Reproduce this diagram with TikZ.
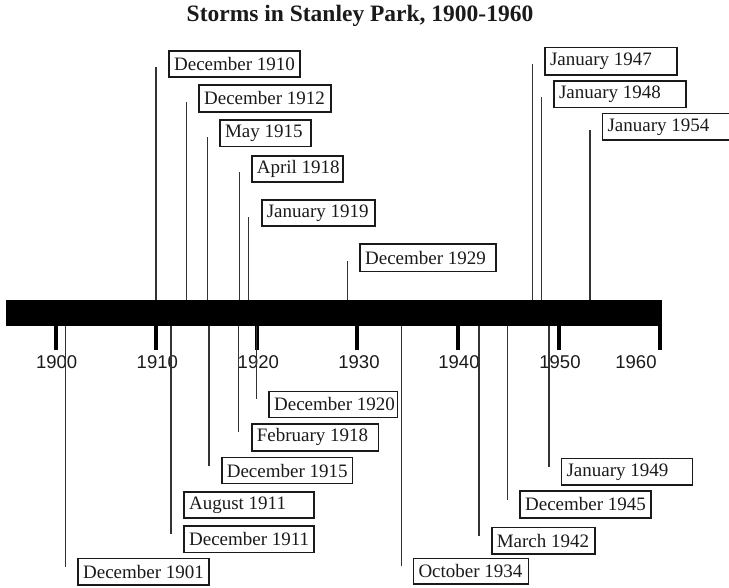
\documentclass[tikz,border=0pt]{standalone}
\usepackage{fontspec}
\setmainfont{Liberation Serif}
\newfontfamily\yearfont{Liberation Sans}
\definecolor{ink}{HTML}{1A1A1A}
\definecolor{linegray}{HTML}{333333}
\tikzset{
  conn/.style={draw=linegray, line width=1.5pt},
  lbl/.style={draw=ink, line width=1.6pt, text=ink, inner xsep=5pt, inner ysep=0pt,
    anchor=north west, font=\fontsize{19}{21}\selectfont},
  yearlbl/.style={anchor=base, text=ink, inner sep=0pt, font=\yearfont\fontsize{18.5}{20}\selectfont},
  tickmark/.style={draw=black, line width=4pt},
  bar/.style={fill=black},
}
\begin{document}
\begin{tikzpicture}[x=1pt,y=-1pt]
\useasboundingbox (0,0) rectangle (729,587);
\clip (0,0) rectangle (729,587);
% title
\node[font=\bfseries\fontsize{23.5}{25}\selectfont, text=ink, anchor=base] (title) at (360,21) {Storms in Stanley Park, 1900-1960};
% timeline bar
\node[bar, minimum width=656pt, minimum height=26pt, inner sep=0pt, anchor=north west] (tl) at (6,300) {};
% ticks and year labels
\foreach \n/\x/\c/\y in {0/56/56.7/1900, 1/156/157.3/1910, 2/256.7/258.3/1920, 3/357/359/1930, 4/458.3/459/1940, 5/559/560/1950, 6/660/636/1960}{
  \coordinate (tka\n) at (\x,326);
  \coordinate (tkb\n) at (\x,350);
  \draw[tickmark] (tka\n) -- (tkb\n);
  \node[yearlbl] (yr\n) at (\c,368) {\y};
}
% events above the bar: name/x/line top/box left/box top/box right/box bottom/text
\foreach \n/\x/\t/\l/\tp/\r/\b/\txt in {
  a1/155.8/67/168.3/50/299.3/76/December 1910,
  a2/186.5/101.7/198.3/84.3/330/111/December 1912,
  a3/207.5/136.7/219.3/119/310/145.7/May 1915,
  a4/239.3/171.7/251/155/342/181.3/April 1918,
  a5/248.5/216.7/261/199.3/374/225/January 1919,
  a6/347.7/261/359.3/243.3/495/270.7/December 1929,
  a7/532.5/64/544.3/46.7/676/74/January 1947,
  a8/541.7/97.3/553.3/80/685/106.7/January 1948,
  a9/590/130/601.7/112.7/760/139.3/January 1954}{
  \pgfmathsetmacro\w{\r-\l-10}
  \pgfmathsetmacro\h{\b-\tp}
  \coordinate (s\n) at (\x,300);
  \coordinate (e\n) at (\x,\t);
  \draw[conn] (s\n) -- (e\n);
  \node[lbl, minimum height=\h pt] (b\n) at (\l,\tp) {\makebox[\w pt][l]{\txt}};
}
% events below the bar
\foreach \n/\x/\t/\l/\tp/\r/\b/\txt in {
  c1/256.7/399/268.3/390.5/396.7/416.5/December 1920,
  c2/238.3/431.7/251/423/377.7/450/February 1918,
  c3/209/466/221/456.7/351.7/482.7/December 1915,
  c4/171/500/183.3/491/313.3/517.3/August 1911,
  c5/170.8/534/183.3/525.3/313.3/551.7/December 1911,
  c6/65.7/567.3/77.3/557.7/208.3/584.3/December 1901,
  c7/401.3/565.7/412.7/557.7/527.7/583.3/October 1934,
  c8/479.2/536/491/526.7/594/553.3/March 1942,
  c9/507.7/500/519.3/490/650/517.3/December 1945,
  c10/549.2/467.3/560.7/457.7/691.7/484.3/January 1949}{
  \pgfmathsetmacro\w{\r-\l-10}
  \pgfmathsetmacro\h{\b-\tp}
  \coordinate (s\n) at (\x,326);
  \coordinate (e\n) at (\x,\t);
  \draw[conn] (s\n) -- (e\n);
  \node[lbl, minimum height=\h pt] (b\n) at (\l,\tp) {\makebox[\w pt][l]{\txt}};
}
\end{tikzpicture}
\end{document}
